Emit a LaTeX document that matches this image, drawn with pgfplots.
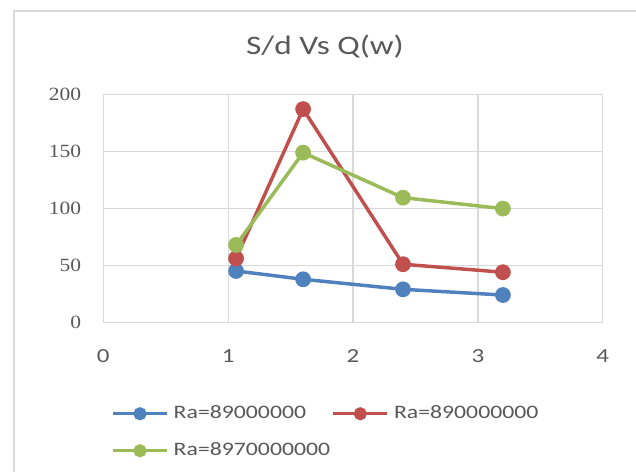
\documentclass[border=0pt]{standalone}
\usepackage{fontspec}
\setmainfont{Carlito}[FakeStretch=1.25]
\newfontfamily\serifticks{Liberation Serif}[FakeStretch=1.15]
\usepackage{pgfplots}
\pgfplotsset{compat=1.18}
\definecolor{xlblue}{HTML}{4F81BD}
\definecolor{xlred}{HTML}{C0504D}
\definecolor{xlgreen}{HTML}{9BBB59}
\definecolor{xlgrid}{HTML}{D9D9D9}
\definecolor{xltext}{HTML}{595959}
\begin{document}
\begin{tikzpicture}
\useasboundingbox (0pt,0pt) rectangle (477pt,354pt);
\fill[white] (0pt,0pt) rectangle (477pt,354pt);
\draw[xlgrid, line width=1.5pt] (10.5pt,0pt) -- (10.5pt,345.75pt) -- (477pt,345.75pt);
\begin{axis}[
  at={(77.5pt,112.3pt)}, anchor=south west,
  scale only axis, width=374.6pt, height=171pt,
  xmin=0, xmax=4, ymin=0, ymax=200,
  xtick={0,1,2,3,4}, ytick={0,50,100,150,200},
  major tick length=0pt,
  grid=major,
  major grid style={xlgrid, line width=1pt},
  axis line style={xlgrid, line width=1pt},
  /pgf/number format/assume math mode=true,
  xticklabel style={font=\fontsize{15}{15}\selectfont, text=xltext, anchor=north, inner sep=0pt, yshift=-20.5pt},
  yticklabel style={font=\serifticks\fontsize{14}{14}\selectfont, text=xltext, anchor=east, inner sep=0pt, xshift=-16.5pt},
  legend columns=2,
  legend cell align=left,
  legend style={at={(0.01535,-0.362)}, anchor=north west, draw=none, fill=none, inner sep=0pt,
    font=\fontsize{14.25}{14.25}\selectfont, text=xltext,
    nodes={inner sep=0pt, text height=10pt, text depth=3pt},
    row sep=14.75pt,
    /tikz/every odd column/.append style={column sep=3.75pt},
    /tikz/every even column/.append style={column sep=1pt}},
  legend image code/.code={\draw[#1, mark repeat=2, mark phase=2, mark size=3.6pt] plot coordinates {(0pt,0pt) (20.25pt,0pt) (40.5pt,0pt)};},
]
\addplot[xlblue, line width=2.6pt, mark=*, mark size=4.6pt, mark options={solid}] coordinates {(1.063,45.0) (1.60,37.7) (2.40,28.9) (3.20,23.9)};
\addlegendentry{Ra=89000000}
\addplot[xlred, line width=2.6pt, mark=*, mark size=4.6pt, mark options={solid}] coordinates {(1.063,56.0) (1.60,187.0) (2.40,50.9) (3.20,43.9)};
\addlegendentry{Ra=890000000}
\addplot[xlgreen, line width=2.6pt, mark=*, mark size=4.6pt, mark options={solid}] coordinates {(1.063,67.8) (1.60,148.8) (2.40,109.3) (3.20,99.7)};
\addlegendentry{Ra=8970000000}
\end{axis}
\node[font=\fontsize{20}{20}\selectfont, text=xltext] at (243.75pt,318.75pt) {S/d Vs Q(w)};
\end{tikzpicture}
\end{document}
